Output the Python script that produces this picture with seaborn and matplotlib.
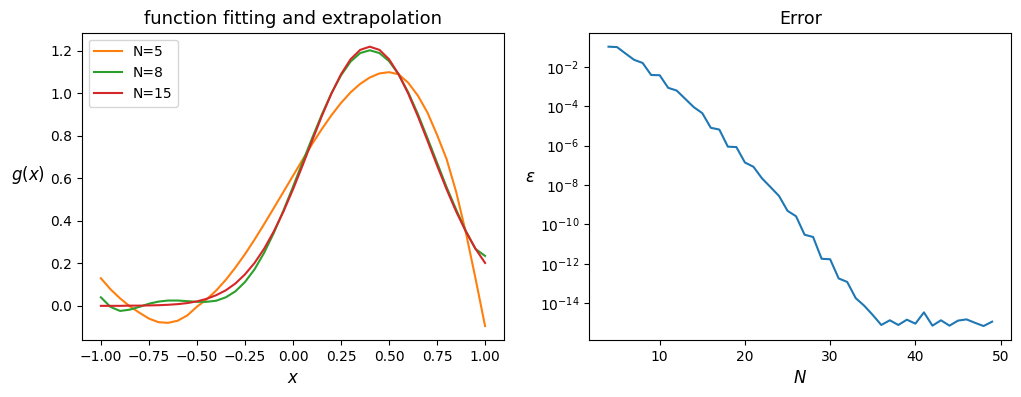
import matplotlib
matplotlib.use("Agg")
import matplotlib.pyplot as plt
import numpy as np
import pandas as pd
import seaborn as sns

# left panel: fitted curves sampled on x
x_grid = [-1.00, -0.95, -0.90, -0.85, -0.80, -0.75, -0.70, -0.65, -0.60, -0.55,
          -0.50, -0.45, -0.40, -0.35, -0.30, -0.25, -0.20, -0.15, -0.10, -0.05,
          0.00, 0.05, 0.10, 0.15, 0.20, 0.25, 0.30, 0.35, 0.40, 0.45,
          0.50, 0.55, 0.60, 0.65, 0.70, 0.75, 0.80, 0.85, 0.90, 0.95, 1.00]

fit_n5 = [0.130, 0.078, 0.035, -0.002, -0.032, -0.060, -0.077, -0.080, -0.070, -0.045,
          -0.004, 0.030, 0.072, 0.122, 0.180, 0.243, 0.312, 0.385, 0.460, 0.536,
          0.612, 0.688, 0.762, 0.832, 0.897, 0.955, 1.005, 1.045, 1.075, 1.094,
          1.100, 1.090, 1.050, 0.990, 0.910, 0.805, 0.690, 0.535, 0.345, 0.130, -0.095]

fit_n8 = [0.040, -0.005, -0.024, -0.018, -0.005, 0.010, 0.020, 0.025, 0.025, 0.022,
          0.019, 0.019, 0.024, 0.040, 0.068, 0.112, 0.172, 0.250, 0.343, 0.448,
          0.560, 0.676, 0.790, 0.900, 1.000, 1.085, 1.150, 1.190, 1.203, 1.190,
          1.152, 1.090, 1.005, 0.903, 0.790, 0.674, 0.558, 0.452, 0.352, 0.268, 0.235]

fit_n15 = [0.000, 0.000, 0.000, 0.001, 0.001, 0.002, 0.003, 0.005, 0.008, 0.013,
           0.021, 0.033, 0.050, 0.073, 0.105, 0.148, 0.202, 0.269, 0.350, 0.443,
           0.548, 0.661, 0.778, 0.893, 0.999, 1.090, 1.161, 1.205, 1.220, 1.205,
           1.161, 1.090, 0.999, 0.893, 0.778, 0.661, 0.548, 0.443, 0.350, 0.269, 0.202]

# right panel: max error vs number of terms
n_terms = list(range(4, 50))
errors = [1.07e-1, 1.02e-1, 4.8e-2, 2.3e-2, 1.6e-2, 3.9e-3, 3.8e-3, 8.7e-4, 6.3e-4, 2.4e-4,
          9.1e-5, 4.5e-5, 8.1e-6, 6.6e-6, 8.9e-7, 8.5e-7, 1.4e-7, 8.5e-8, 2.2e-8, 7.9e-9,
          2.8e-9, 4.9e-10, 2.6e-10, 3.0e-11, 2.3e-11, 1.8e-12, 1.7e-12, 1.8e-13, 1.2e-13, 1.8e-14,
          7.4e-15, 2.5e-15, 7.8e-16, 1.35e-15, 7.8e-16, 1.45e-15, 9.1e-16, 3.4e-15, 7.2e-16, 1.35e-15,
          7.2e-16, 1.3e-15, 1.5e-15, 1.0e-15, 6.9e-16, 1.15e-15]

fits = pd.DataFrame({"x": x_grid, "N=5": fit_n5, "N=8": fit_n8, "N=15": fit_n15})
err_df = pd.DataFrame({"N": n_terms, "err": errors})

fig, (ax1, ax2) = plt.subplots(1, 2, figsize=(10.21, 3.97), dpi=100)
ax1.set_position([0.0800, 0.1436, 0.4139, 0.7740])
ax2.set_position([0.5772, 0.1436, 0.4133, 0.7740])

for name, color in [("N=5", "C1"), ("N=8", "C2"), ("N=15", "C3")]:
    sns.lineplot(data=fits, x="x", y=name, color=color, label=name, ax=ax1)
ax1.set_title("function fitting and extrapolation", fontsize=13)
ax1.set_xlabel("$x$", fontsize=12)
ax1.set_ylabel("$g(x)$", fontsize=12, rotation=0, labelpad=16)
ax1.legend(loc="upper left")

sns.lineplot(data=err_df, x="N", y="err", color="C0", ax=ax2)
ax2.set_yscale("log")
ax2.set_title("Error", fontsize=12.5)
ax2.set_xlabel("$N$", fontsize=12)
ax2.set_ylabel(r"$\varepsilon$", fontsize=12, rotation=0, labelpad=7)

fig.savefig("out.png", dpi=100)
